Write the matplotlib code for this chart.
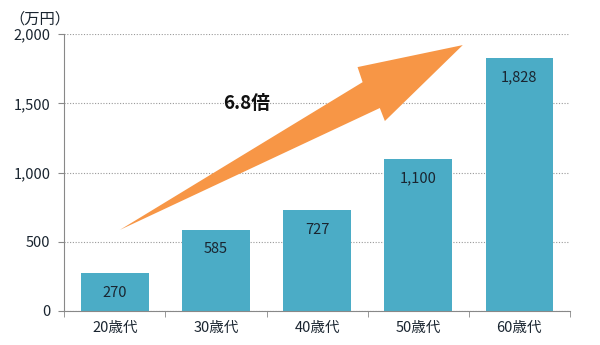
import matplotlib

matplotlib.use("Agg")
import matplotlib.pyplot as plt
from matplotlib.patches import Polygon
from matplotlib.ticker import FuncFormatter

plt.rcParams["font.family"] = ["Noto Sans CJK JP", "DejaVu Sans"]

categories = ["20歳代", "30歳代", "40歳代", "50歳代", "60歳代"]
values = [270, 585, 727, 1100, 1828]
unit_label = "（万円）"
ratio_label = "6.8倍"

bar_color = "#4BACC6"
arrow_color = "#F79646"
text_color = "#1A2530"

fig = plt.figure(figsize=(6.0, 3.45), dpi=100)
ax = fig.add_axes([0.107, 0.099, 0.843, 0.802])

x = list(range(len(categories)))
bars = ax.bar(x, values, width=0.67, color=bar_color, zorder=2)

for rect, v in zip(bars, values):
    ax.annotate(f"{v:,}", xy=(rect.get_x() + rect.get_width() / 2, v),
                xytext=(0, -14), textcoords="offset points",
                ha="center", va="center", fontsize=10.5, color=text_color, zorder=3)

ax.set_xlim(-0.5, len(categories) - 0.5)
ax.set_ylim(0, 2000)
ax.set_yticks(range(0, 2001, 500))
ax.yaxis.set_major_formatter(FuncFormatter(lambda v, _: f"{int(v):,}"))
ax.set_xticks(x)
ax.set_xticklabels(categories)
ax.set_xticks([i + 0.5 for i in range(-1, len(categories))], minor=True)
ax.tick_params(axis="x", which="major", length=0, pad=7, labelsize=10.5, colors=text_color)
ax.tick_params(axis="x", which="minor", length=4, color="#888888", direction="out")
ax.tick_params(axis="y", length=4, color="#888888", labelsize=10.5, colors=text_color, pad=6)

ax.grid(axis="y", linestyle=(0, (1, 1.5)), color="#999999", linewidth=0.8, zorder=0)
for side in ["top", "right"]:
    ax.spines[side].set_visible(False)
ax.spines["left"].set_color("#888888")
ax.spines["bottom"].set_color("#888888")

# big orange arrow (in data coordinates)
arrow = Polygon(
    [(0.05, 585), (2.45, 1653), (2.40, 1762), (3.44, 1921),
     (2.67, 1372), (2.62, 1466)],
    closed=True, facecolor=arrow_color, edgecolor="none", zorder=4, clip_on=False,
)
ax.add_patch(arrow)

ax.text(1.3, 1500, ratio_label, ha="center", va="center", fontsize=13.5,
        fontweight="bold", color="#111111", zorder=5)

fig.text(0.067, 0.945, unit_label, ha="center", va="center", fontsize=11, color=text_color)

fig.savefig("out.png", dpi=100, facecolor="white")
